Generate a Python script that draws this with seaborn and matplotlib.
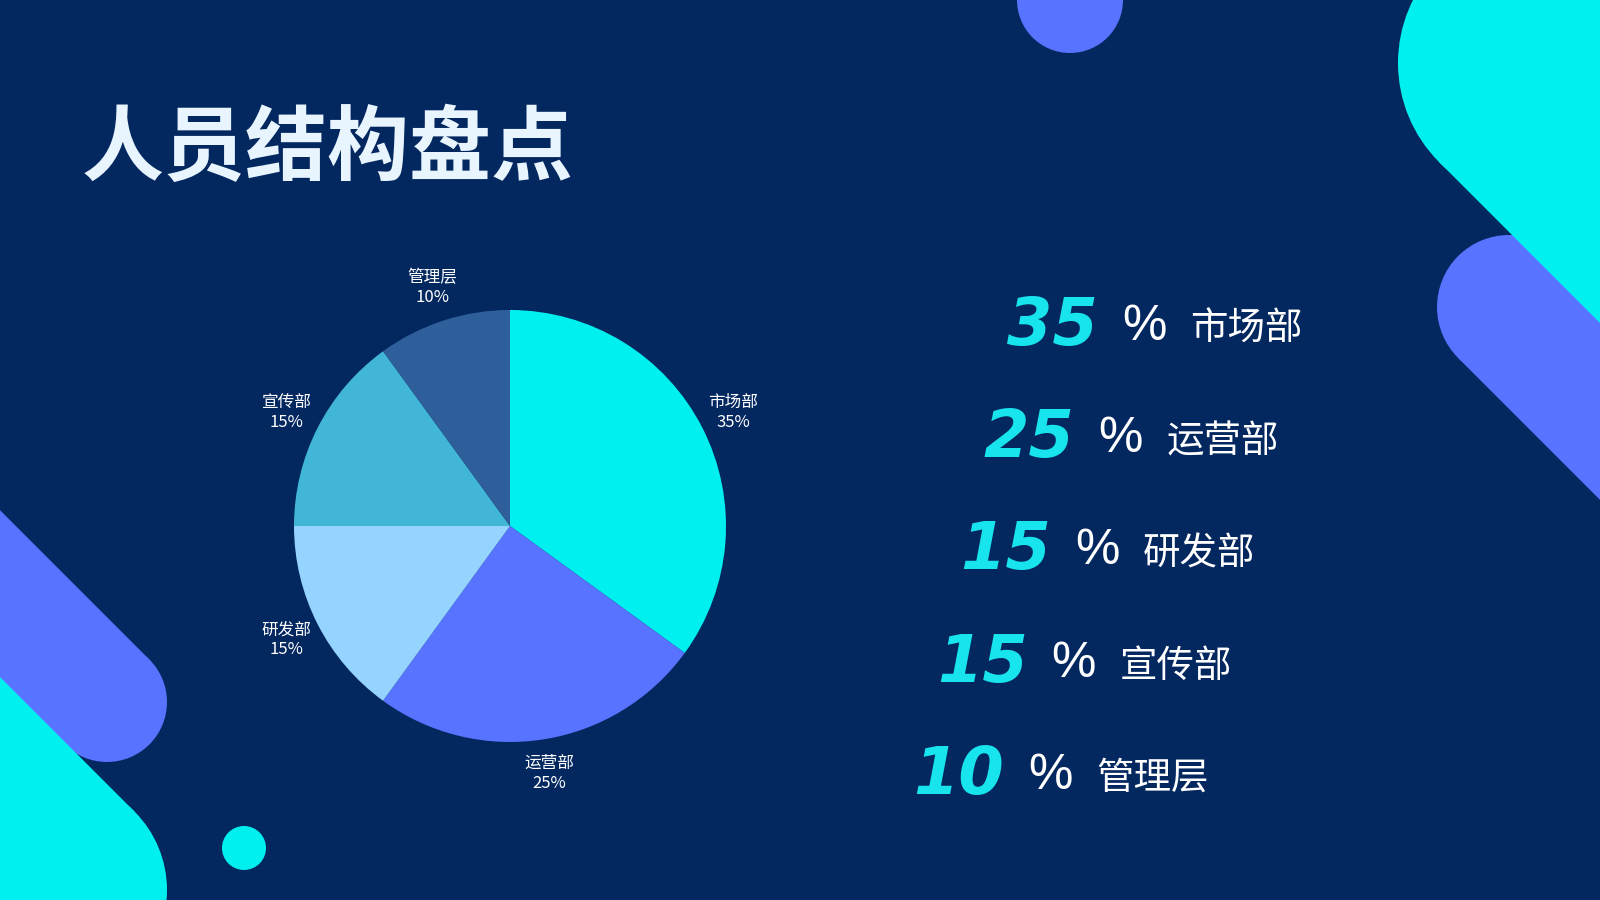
import numpy as np
import matplotlib
matplotlib.use('Agg')
import matplotlib.pyplot as plt
from matplotlib.patches import Circle, Polygon
import seaborn as sns

# chart data
departments = ['市场部', '运营部', '研发部', '宣传部', '管理层']
shares = [35, 25, 15, 15, 10]
slice_colors = ['#00F0F0', '#5773FF', '#94D4FF', '#41B6D6', '#2E5F9A']
title = '人员结构盘点'

BG = '#03275F'
CYAN = '#00F0F0'
VIOLET = '#5773FF'

sns.set_theme(style='dark', rc={'figure.facecolor': BG, 'axes.facecolor': BG})
plt.rcParams['font.family'] = ['Noto Sans CJK SC', 'DejaVu Sans']


def stadium(ax, cx, cy, r, dx, dy, color, z):
    # rounded band: a cap circle plus a long rectangle running off the page
    n = np.hypot(dx, dy)
    ux, uy = dx / n, dy / n
    px, py = -uy, ux
    L = 2500
    pts = [(cx + px * r, cy + py * r),
           (cx + px * r + ux * L, cy + py * r + uy * L),
           (cx - px * r + ux * L, cy - py * r + uy * L),
           (cx - px * r, cy - py * r)]
    ax.add_patch(Polygon(pts, closed=True, facecolor=color, lw=0, zorder=z))
    ax.add_patch(Circle((cx, cy), r, facecolor=color, lw=0, zorder=z))


fig = plt.figure(figsize=(16, 9), dpi=100)

# background layer in pixel-like coordinates (y down)
bg = fig.add_axes([0, 0, 1, 1])
bg.set_xlim(0, 1600)
bg.set_ylim(900, 0)
bg.axis('off')

stadium(bg, 1509, 307, 72, 1, 1, VIOLET, 1)
stadium(bg, 1538, 63, 140, 1, 1, CYAN, 2)
stadium(bg, 107, 702, 60, -1, -1, VIOLET, 1)
stadium(bg, 56, 890, 111, -1, -1, CYAN, 2)
bg.add_patch(Circle((1070, 0), 53, facecolor=VIOLET, lw=0, zorder=1))
bg.add_patch(Circle((244, 848), 22, facecolor=CYAN, lw=0, zorder=1))

bg.text(82, 174, title, fontsize=59, color='#E8F5FF', weight='bold',
        ha='left', va='baseline', zorder=5)

# right hand list
for i, (name, val) in enumerate(zip(departments, shares)):
    xp = 1122 - 23.5 * i
    yc = 321 + 112.25 * i
    bg.text(xp - 24, yc + 24, f'{val}', fontsize=47, color='#17E4EC',
            family='DejaVu Sans', weight='bold', style='italic',
            ha='right', va='baseline', zorder=5)
    bg.text(xp, yc + 19, '%', fontsize=36, color='white',
            family='Liberation Sans', ha='left', va='baseline', zorder=5)
    bg.text(xp + 68, yc + 19, name, fontsize=27, color='white',
            ha='left', va='baseline', zorder=5)

# pie chart: centre (510, 526) px, radius 216 px
side = 2.5 * 216
ax = fig.add_axes([(510 - side / 2) / 1600, (900 - 526 - side / 2) / 900,
                   side / 1600, side / 900])
ax.set_facecolor('none')
labels = [f'{n}\n{v}%' for n, v in zip(departments, shares)]
wedges, texts = ax.pie(shares, labels=labels, colors=slice_colors,
                       startangle=90, counterclock=False, labeldistance=1.16,
                       wedgeprops={'linewidth': 0},
                       textprops={'fontsize': 12, 'color': 'white'})
for t in texts:
    t.set_ha('center')
    t.set_va('center')
    t.set_linespacing(1.25)
ax.set_xlim(-1.25, 1.25)
ax.set_ylim(-1.25, 1.25)
ax.set_aspect('equal')

fig.savefig('out.png', dpi=100, facecolor=BG)
